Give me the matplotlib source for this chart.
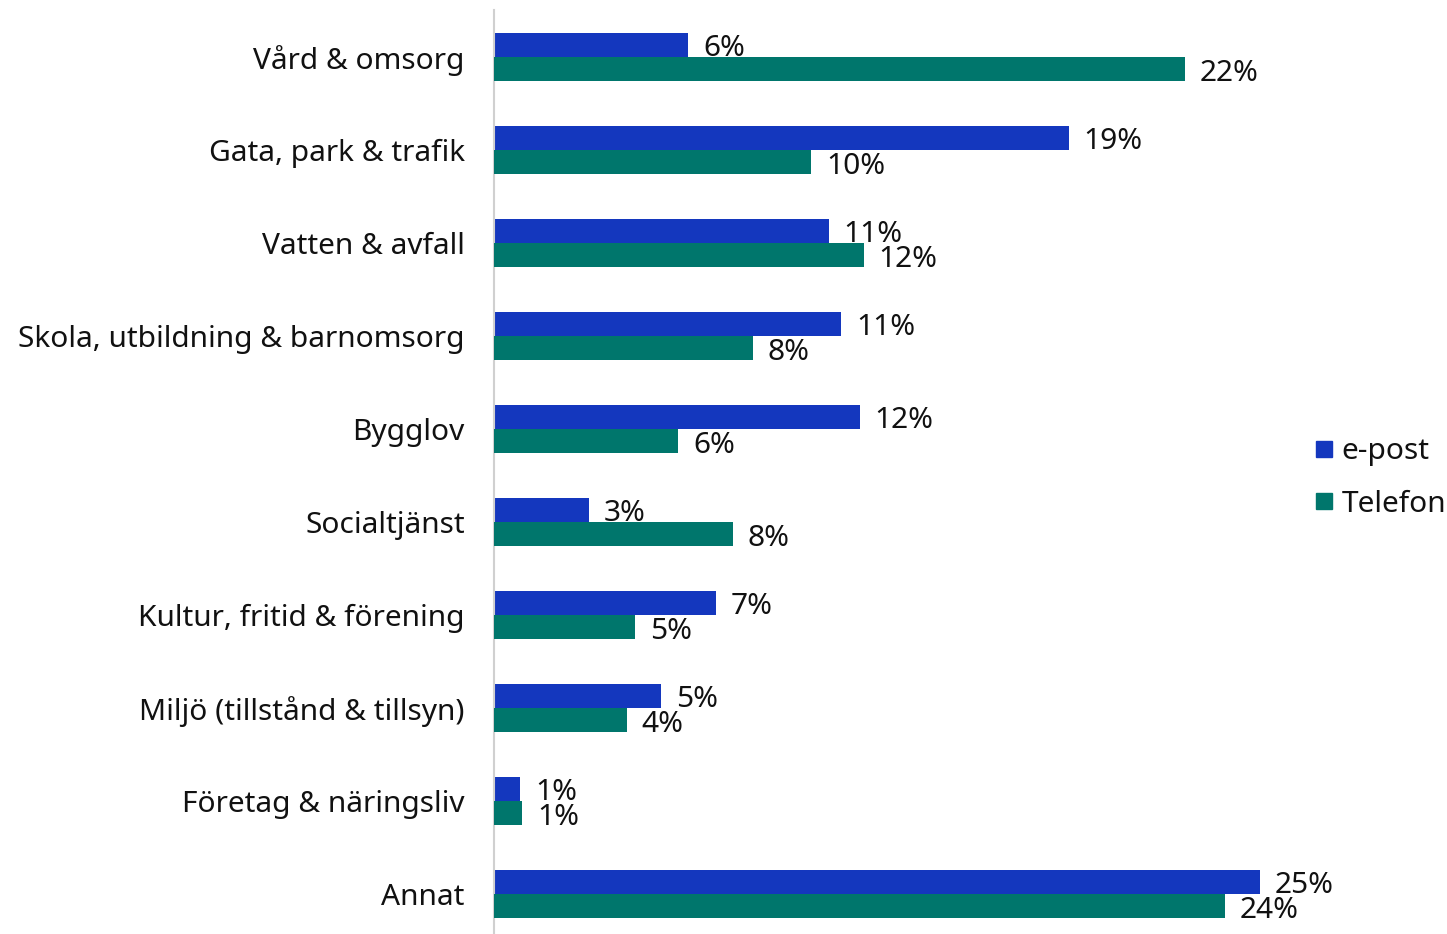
import numpy as np
import matplotlib.pyplot as plt
from matplotlib.lines import Line2D

plt.rcParams['font.family'] = ['Noto Sans', 'DejaVu Sans']

categories = ["Vård & omsorg", "Gata, park & trafik", "Vatten & avfall",
              "Skola, utbildning & barnomsorg", "Bygglov", "Socialtjänst",
              "Kultur, fritid & förening", "Miljö (tillstånd & tillsyn)",
              "Företag & näringsliv", "Annat"]
epost = [6.28, 18.61, 10.84, 11.23, 11.84, 3.07, 7.18, 5.40, 0.84, 24.79]
telefon = [22.36, 10.26, 11.97, 8.38, 5.96, 7.73, 4.56, 4.30, 0.91, 23.66]

c_epost = "#1437be"
c_tel = "#00766c"
fs = 21.5

fig = plt.figure(figsize=(14.47, 9.34), dpi=100)
W, H = 1447, 934
ax = fig.add_axes([494 / W, 0, (1297 - 494) / W, (934 - 10) / H])

y = np.arange(len(categories))
h = 0.263
b1 = ax.barh(y - h / 2, epost, height=h, color=c_epost, label="e-post", zorder=1)
b2 = ax.barh(y + h / 2, telefon, height=h, color=c_tel, label="Telefon", zorder=3)

# e-post labels sit under the Telefon bars, Telefon labels on top
for bars, vals, z in ((b1, epost, 2), (b2, telefon, 4)):
    for bar, v in zip(bars, vals):
        ax.annotate(f"{v:.0f}%", (bar.get_width(), bar.get_y() + bar.get_height() / 2),
                    xytext=(15, -4), textcoords="offset pixels",
                    ha="left", va="center", fontsize=fs, color="#111111", zorder=z)

ax.set_xlim(0, 26)
ax.set_ylim(len(categories) - 1 + 0.43, -0.505)
ax.set_yticks(y)
ax.set_yticklabels(categories, fontsize=fs, color="#111111")
ax.tick_params(axis="y", length=0, pad=21)
ax.set_xticks([])
for s in ("top", "right", "bottom"):
    ax.spines[s].set_visible(False)
ax.spines["left"].set_color("#d0d0d0")
ax.spines["left"].set_linewidth(1.5)

handles = [Line2D([], [], marker="s", ls="", markersize=11, color=c_epost),
           Line2D([], [], marker="s", ls="", markersize=11, color=c_tel)]
fig.legend(handles, ["e-post", "Telefon"], loc="center left",
           bbox_to_anchor=(1300 / W, 1 - 478 / H), frameon=False, fontsize=fs,
           handlelength=0.6, handletextpad=0.3, labelspacing=0.8,
           borderpad=0, labelcolor="#111111")

fig.savefig("out.png", dpi=100)
